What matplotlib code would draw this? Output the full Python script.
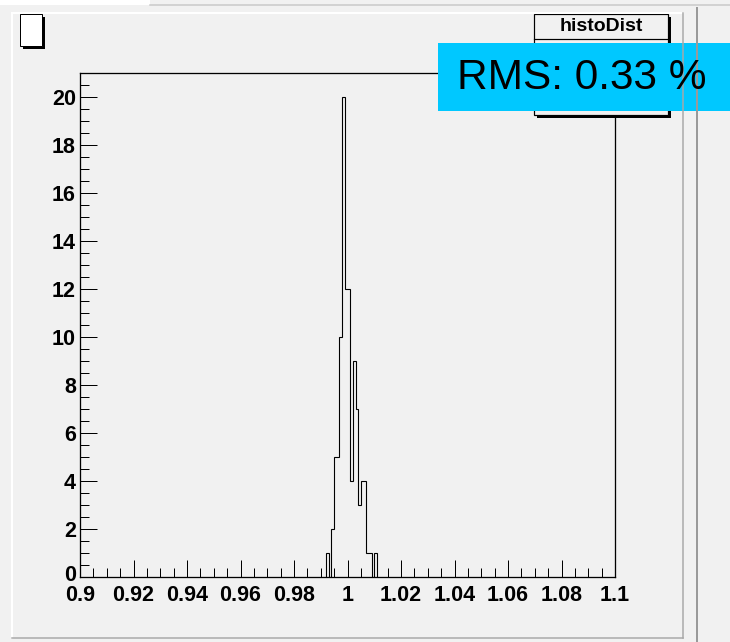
import numpy as np
import matplotlib
matplotlib.use("Agg")
import matplotlib.pyplot as plt
import matplotlib.transforms as mtransforms
from matplotlib.patches import Rectangle
from matplotlib.lines import Line2D
from matplotlib.ticker import MultipleLocator, FixedLocator, FixedFormatter

# histogram data (bins of width 0.001, starting at 0.992)
first_edge = 0.992
bin_width = 0.001
counts = [1, 0, 2, 5, 5, 10, 20, 12, 12, 4, 9, 7, 3, 4, 4, 1, 1, 0, 1]

x_ticks = [0.9, 0.92, 0.94, 0.96, 0.98, 1.0, 1.02, 1.04, 1.06, 1.08, 1.1]
x_labels = ["0.9", "0.92", "0.94", "0.96", "0.98", "1", "1.02", "1.04", "1.06", "1.08", "1.1"]
y_ticks = [0, 2, 4, 6, 8, 10, 12, 14, 16, 18, 20]

hist_name = "histoDist"
rms_text = "RMS: 0.33 %"

W, H = 730, 642
bg = "#f1f1f1"
px = 0.72  # one pixel in points at dpi 100

def fx(x):
    return x / W

def fy(y):
    return 1 - y / H

fig = plt.figure(figsize=(W / 100, H / 100), dpi=100, facecolor=bg)

def rect(x0, y0, x1, y1, **kw):
    r = Rectangle((fx(x0), fy(y1)), (x1 - x0) / W, (y1 - y0) / H,
                  transform=fig.transFigure, **kw)
    fig.add_artist(r)
    return r

def line(xs, ys, **kw):
    l = Line2D([fx(x) for x in xs], [fy(y) for y in ys], transform=fig.transFigure, **kw)
    fig.add_artist(l)
    return l

# window / canvas decoration
rect(0, 0, 150, 5, facecolor="white", edgecolor="none")
line([150, 730], [5, 5], color="#c8c8c8", lw=1.5 * px)
line([12, 12], [13, 638], color="white", lw=2 * px)
line([12, 683], [13, 13], color="white", lw=2 * px)
line([12, 683], [638, 638], color="#a8a8a8", lw=1.5 * px)
line([683, 683], [13, 638], color="#a8a8a8", lw=1.5 * px)
line([697, 697], [8, 642], color="#9a9a9a", lw=2 * px)

# axes
ax = fig.add_axes([fx(80), fy(577), (615 - 80) / W, (577 - 73) / H])
ax.set_facecolor(bg)
edges = np.round(first_edge + bin_width * np.arange(len(counts) + 1), 4)
ax.stairs(counts, edges, color="black", lw=1.1 * px)

ax.set_xlim(0.9, 1.1)
ax.set_ylim(0, 21)
for s in ax.spines.values():
    s.set_linewidth(1.3 * px)
    s.set_color("black")

ax.xaxis.set_major_locator(FixedLocator(x_ticks))
ax.xaxis.set_major_formatter(FixedFormatter(x_labels))
ax.xaxis.set_minor_locator(MultipleLocator(0.005))
ax.yaxis.set_major_locator(FixedLocator(y_ticks))
ax.yaxis.set_minor_locator(MultipleLocator(0.5))
ax.tick_params(which="both", direction="in", top=False, right=False, color="black", width=1 * px)
ax.tick_params(which="major", length=17 * px)
ax.tick_params(which="minor", length=9 * px)
ax.tick_params(axis="x", pad=6)
ax.tick_params(axis="y", pad=3)
for lab in ax.get_xticklabels() + ax.get_yticklabels():
    lab.set_fontfamily("Liberation Sans")
    lab.set_fontweight("bold")
    lab.set_fontsize(15.5)

# lift the "0" on the y axis a little, it sits right above "0.9"
fig.canvas.draw()
zero_lab = ax.get_yticklabels()[0]
zero_lab.set_transform(zero_lab.get_transform() +
                       mtransforms.ScaledTranslation(0, 4 / 100, fig.dpi_scale_trans))

# empty title box
rect(22.5, 17, 44.5, 48.5, facecolor="black", edgecolor="none")
rect(19.5, 14, 41.5, 45.5, facecolor="white", edgecolor="black", lw=1 * px)

# stats box
rect(537, 17, 671, 118, facecolor="black", edgecolor="none")
rect(534, 14, 668, 115, facecolor=bg, edgecolor="black", lw=1.2 * px)
line([534, 668], [39, 39], color="black", lw=1.2 * px)
fig.text(fx(601), fy(26.5), hist_name, ha="center", va="center",
         fontsize=14, fontweight="bold", family="Liberation Sans")

# RMS label
rect(438, 43, 731, 111, facecolor="#00c8ff", edgecolor="none")
fig.text(fx(457), fy(78), rms_text, ha="left", va="center",
         fontsize=30.5, family="Liberation Sans", color="black")

fig.savefig("out.png", dpi=100, facecolor=bg)
